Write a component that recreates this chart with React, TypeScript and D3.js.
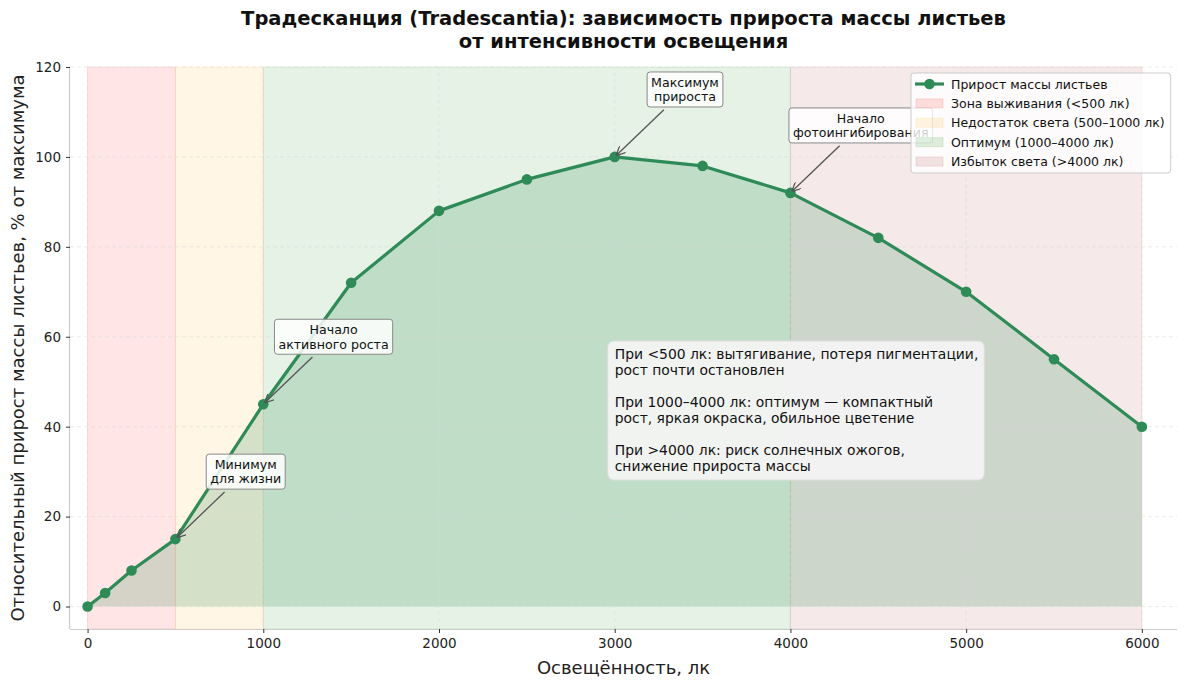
/*eslint-disable*/
import React, { useEffect, useRef } from 'react';
import * as d3 from 'd3';

const lux = [0, 100, 250, 500, 1000, 1500, 2000, 2500, 3000, 3500, 4000, 4500, 5000, 5500, 6000];
const growth = [0, 3, 8, 15, 45, 72, 88, 95, 100, 98, 92, 82, 70, 55, 40];

const zoneLabels = ['Зона выживания (<500 лк)', 'Недостаток света (500–1000 лк)', 'Оптимум (1000–4000 лк)', 'Избыток света (>4000 лк)'];
const zoneStarts = [0, 500, 1000, 4000];
const zoneEnds = [500, 1000, 4000, 6000];
const zoneColors = ['#ff0000', '#ffa500', '#008000', '#a52a2a'];

const xTicks = [0, 1000, 2000, 3000, 4000, 5000, 6000];
const yTicks = [0, 20, 40, 60, 80, 100, 120];

const annoLines = [['Минимум', 'для жизни'], ['Начало', 'активного роста'], ['Максимум', 'прироста'], ['Начало', 'фотоингибирования']];
const annoTargetX = [500, 1000, 3000, 4000];
const annoTargetY = [15, 45, 100, 92];
const annoTextX = [900, 1400, 3400, 4400];
const annoTextY = [30, 60, 115, 107];

const infoLines = [
  'При <500 лк: вытягивание, потеря пигментации,',
  'рост почти остановлен',
  '',
  'При 1000–4000 лк: оптимум — компактный',
  'рост, яркая окраска, обильное цветение',
  '',
  'При >4000 лк: риск солнечных ожогов,',
  'снижение прироста массы',
];

const seriesLabel = 'Прирост массы листьев';
const green = '#2e8b57';
const FONT = 'DejaVu Sans, sans-serif';

const App: React.FC = () => {
  const svgRef = useRef<SVGSVGElement>(null);

  useEffect(() => {
    document.body.style.margin = '0';
    const W = 1187, H = 686;
    const margin = { top: 67, right: 10, bottom: 57, left: 70 };
    const svg = d3.select(svgRef.current).attr('width', W).attr('height', H);
    svg.selectAll('*').remove();

    const x = d3.scaleLinear().domain([-100, 6200]).range([margin.left, W - margin.right]);
    const y = d3.scaleLinear().domain([-5, 120]).range([H - margin.bottom, margin.top]);
    const [x0, x1] = x.range();
    const [y0, y1] = y.range();

    // zones
    zoneStarts.forEach((s, i) => {
      svg.append('rect')
        .attr('x', x(s)).attr('y', y1)
        .attr('width', x(zoneEnds[i]) - x(s)).attr('height', y0 - y1)
        .attr('fill', zoneColors[i]).attr('fill-opacity', 0.1)
        .attr('stroke', zoneColors[i]).attr('stroke-opacity', 0.1);
    });

    // area under curve
    const pts = lux.map((v, i) => [v, growth[i]] as [number, number]);
    const area = d3.area<[number, number]>().x(d => x(d[0])).y0(y(0)).y1(d => y(d[1]));
    svg.append('path').datum(pts).attr('d', area).attr('fill', green).attr('fill-opacity', 0.2);

    // grid
    const grid = svg.append('g').attr('stroke', '#d8d8d8').attr('stroke-opacity', 0.6)
      .attr('stroke-dasharray', '4,3').attr('stroke-width', 0.8);
    yTicks.forEach(t => grid.append('line').attr('x1', x0).attr('x2', x1).attr('y1', y(t)).attr('y2', y(t)));
    xTicks.forEach(t => grid.append('line').attr('y1', y0).attr('y2', y1).attr('x1', x(t)).attr('x2', x(t)));

    // line + markers
    const line = d3.line<[number, number]>().x(d => x(d[0])).y(d => y(d[1]));
    svg.append('path').datum(pts).attr('d', line).attr('fill', 'none')
      .attr('stroke', green).attr('stroke-width', 3.2).attr('stroke-linejoin', 'round');
    svg.selectAll('.dot').data(pts).enter().append('circle')
      .attr('class', 'dot').attr('cx', d => x(d[0])).attr('cy', d => y(d[1]))
      .attr('r', 5.3).attr('fill', green);

    // axes
    const xAxis = svg.append('g').attr('transform', `translate(0,${y0})`)
      .call(d3.axisBottom(x).tickValues(xTicks).tickSize(4).tickPadding(5).tickFormat(d3.format('d')));
    const yAxis = svg.append('g').attr('transform', `translate(${x0},0)`)
      .call(d3.axisLeft(y).tickValues(yTicks).tickSize(4).tickPadding(5).tickFormat(d3.format('d')));
    [xAxis, yAxis].forEach(a => {
      a.selectAll('text').attr('font-family', FONT).attr('font-size', 13.5).attr('fill', '#222');
      a.select('.domain').attr('stroke', '#cccccc').attr('stroke-width', 1.2);
      a.selectAll('.tick line').attr('stroke', '#333');
    });
    xAxis.select('.domain').attr('d', `M${x0},0.5H${x1}`);
    yAxis.select('.domain').attr('d', `M-0.5,${y0}V${y1}`);

    // labels
    svg.append('text').attr('x', (x0 + x1) / 2).attr('y', 674).attr('text-anchor', 'middle')
      .attr('font-family', FONT).attr('font-size', 18).attr('fill', '#222').text('Освещённость, лк');
    svg.append('text').attr('transform', `translate(24,${(y0 + y1) / 2}) rotate(-90)`).attr('text-anchor', 'middle')
      .attr('font-family', FONT).attr('font-size', 18).attr('fill', '#222')
      .text('Относительный прирост массы листьев, % от максимума');
    const title = svg.append('text').attr('text-anchor', 'middle').attr('font-family', FONT)
      .attr('font-size', 19.5).attr('font-weight', 'bold').attr('fill', '#111');
    title.append('tspan').attr('x', (x0 + x1) / 2).attr('y', 25).text('Традесканция (Tradescantia): зависимость прироста массы листьев');
    title.append('tspan').attr('x', (x0 + x1) / 2).attr('y', 48).text('от интенсивности освещения');

    // annotations
    const defs = svg.append('defs');
    defs.append('marker').attr('id', 'arr').attr('viewBox', '0 0 10 10').attr('refX', 10).attr('refY', 5)
      .attr('markerWidth', 9).attr('markerHeight', 9).attr('markerUnits', 'userSpaceOnUse').attr('orient', 'auto')
      .append('path').attr('d', 'M0,0L10,5L0,10').attr('fill', 'none').attr('stroke', '#555').attr('stroke-width', 1.4);

    annoLines.forEach((lines, i) => {
      const cx = x(annoTextX[i]), cy = y(annoTextY[i]);
      const g = svg.append('g');
      const t = g.append('text').attr('text-anchor', 'middle').attr('font-family', FONT)
        .attr('font-size', 12.6).attr('fill', '#111');
      lines.forEach((l, j) => t.append('tspan').attr('x', cx).attr('y', cy + (j - 0.5) * 14.5 + 4.5).text(l));
      const bb = (t.node() as SVGTextElement).getBBox();
      const pad = 4;
      const bw = bb.width + 2 * pad, bh = 2 * 14.5 + 2 * pad - 2;
      g.insert('rect', 'text').attr('x', cx - bw / 2).attr('y', cy - bh / 2).attr('width', bw).attr('height', bh)
        .attr('rx', 3).attr('fill', 'white').attr('fill-opacity', 0.85).attr('stroke', '#888').attr('stroke-width', 1);
      const tx = x(annoTargetX[i]), ty = y(annoTargetY[i]);
      const dx = tx - cx, dy = ty - cy;
      const s = Math.min(Math.abs((bw / 2) / dx), Math.abs((bh / 2) / dy));
      const sx = cx + dx * s, sy = cy + dy * s;
      const len = Math.hypot(tx - sx, ty - sy);
      const ex = tx - (tx - sx) / len * 2, ey = ty - (ty - sy) / len * 2;
      const s2x = sx + (tx - sx) / len * 4, s2y = sy + (ty - sy) / len * 4;
      svg.append('line').attr('x1', s2x).attr('y1', s2y).attr('x2', ex).attr('y2', ey)
        .attr('stroke', '#555').attr('stroke-width', 1.3).attr('marker-end', 'url(#arr)');
    });

    // info box
    const ib = svg.append('g');
    const ix = x(3000), iTop = 354;
    const it = ib.append('text').attr('font-family', FONT).attr('font-size', 13.9).attr('fill', '#111');
    infoLines.forEach((l, j) => it.append('tspan').attr('x', ix).attr('y', iTop + j * 16 + 5).text(l || ' '));
    const ibb = (it.node() as SVGTextElement).getBBox();
    ib.insert('rect', 'text').attr('x', ix - 7).attr('y', 341).attr('width', ibb.width + 13).attr('height', 139)
      .attr('rx', 6).attr('fill', '#f3f3f3').attr('fill-opacity', 0.95).attr('stroke', '#dddddd');

    // legend
    const lg = svg.append('g').attr('transform', 'translate(911,73)');
    const rowH = 19.4;
    const lt = lg.append('g');
    const items: { label: string; kind: number }[] = [{ label: seriesLabel, kind: -1 }].concat(zoneLabels.map((l, i) => ({ label: l, kind: i })));
    items.forEach((it2, j) => {
      const yy = 11 + j * rowH;
      if (it2.kind < 0) {
        lt.append('line').attr('x1', 4).attr('x2', 33).attr('y1', yy).attr('y2', yy).attr('stroke', green).attr('stroke-width', 3.2);
        lt.append('circle').attr('cx', 18.5).attr('cy', yy).attr('r', 5.3).attr('fill', green);
      } else {
        lt.append('rect').attr('x', 5).attr('y', yy - 4.5).attr('width', 27).attr('height', 9)
          .attr('fill', zoneColors[it2.kind]).attr('fill-opacity', 0.12).attr('stroke', zoneColors[it2.kind]).attr('stroke-opacity', 0.12);
      }
      lt.append('text').attr('x', 40).attr('y', yy + 4.5).attr('font-family', FONT).attr('font-size', 12.5)
        .attr('fill', '#111').text(it2.label);
    });
    const lbb = (lt.node() as SVGGElement).getBBox();
    lg.insert('rect', 'g').attr('x', 0).attr('y', 0).attr('width', lbb.width + 10).attr('height', 100)
      .attr('rx', 3).attr('fill', 'white').attr('fill-opacity', 0.8).attr('stroke', '#cccccc');
  }, []);

  return <svg ref={svgRef} style={{ display: 'block' }}></svg>;
};

export default App;
